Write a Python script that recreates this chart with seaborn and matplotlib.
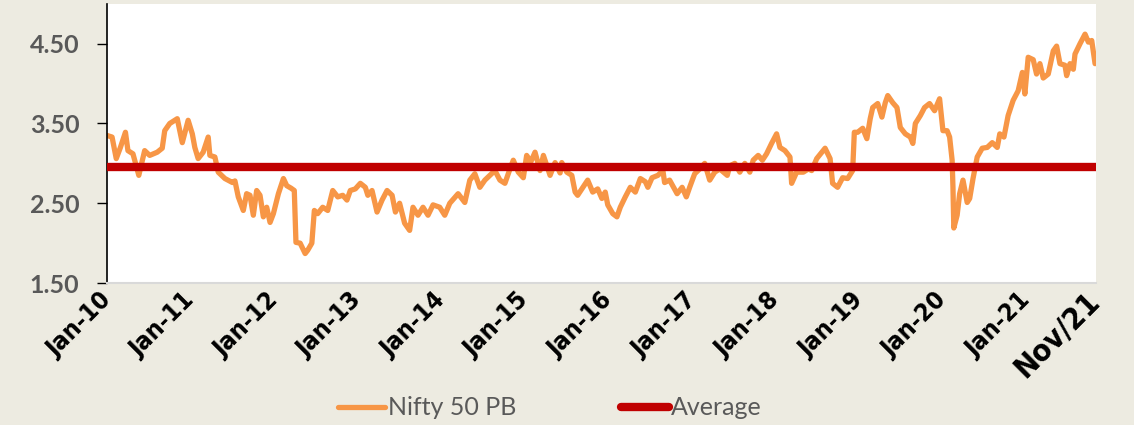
import matplotlib
matplotlib.use("Agg")
import matplotlib.pyplot as plt
import seaborn as sns
import pandas as pd

# ---- data (decimal year, P/B) ----
years = [
    2010.00, 2010.06, 2010.11, 2010.16, 2010.22, 2010.25, 2010.31, 2010.38, 2010.45, 2010.51,
    2010.60, 2010.66, 2010.69, 2010.75, 2010.84, 2010.90, 2010.97, 2011.02, 2011.05, 2011.09,
    2011.15, 2011.21, 2011.23, 2011.29, 2011.33, 2011.41, 2011.50, 2011.53, 2011.57, 2011.63,
    2011.67, 2011.71, 2011.75, 2011.79, 2011.83, 2011.87, 2011.91, 2011.95, 2011.99, 2012.05,
    2012.11, 2012.15, 2012.20, 2012.24, 2012.26, 2012.31, 2012.37, 2012.40, 2012.45, 2012.48,
    2012.52, 2012.58, 2012.64, 2012.70, 2012.76, 2012.82, 2012.87, 2012.91, 2012.97, 2013.03,
    2013.09, 2013.12, 2013.17, 2013.23, 2013.29, 2013.35, 2013.41, 2013.45, 2013.50, 2013.56,
    2013.62, 2013.66, 2013.72, 2013.78, 2013.84, 2013.90, 2013.98, 2014.04, 2014.10, 2014.20,
    2014.28, 2014.34, 2014.40, 2014.46, 2014.52, 2014.58, 2014.64, 2014.70, 2014.76, 2014.81,
    2014.86, 2014.92, 2014.98, 2015.02, 2015.07, 2015.12, 2015.18, 2015.22, 2015.30, 2015.36,
    2015.42, 2015.44, 2015.50, 2015.56, 2015.60, 2015.63, 2015.68, 2015.75, 2015.81, 2015.87,
    2015.92, 2015.96, 2015.99, 2016.05, 2016.10, 2016.14, 2016.20, 2016.26, 2016.32, 2016.38,
    2016.44, 2016.47, 2016.52, 2016.59, 2016.65, 2016.67, 2016.73, 2016.82, 2016.88, 2016.93,
    2016.97, 2017.03, 2017.09, 2017.15, 2017.21, 2017.27, 2017.33, 2017.42, 2017.45, 2017.51,
    2017.57, 2017.63, 2017.69, 2017.73, 2017.79, 2017.84, 2017.89, 2017.95, 2018.01, 2018.05,
    2018.11, 2018.17, 2018.19, 2018.25, 2018.33, 2018.39, 2018.43, 2018.49, 2018.59, 2018.65,
    2018.68, 2018.74, 2018.80, 2018.86, 2018.92, 2018.94, 2018.98, 2019.04, 2019.09, 2019.13,
    2019.16, 2019.22, 2019.27, 2019.31, 2019.34, 2019.40, 2019.45, 2019.49, 2019.55, 2019.61,
    2019.64, 2019.67, 2019.73, 2019.78, 2019.84, 2019.90, 2019.96, 2020.00, 2020.05, 2020.08,
    2020.11, 2020.12, 2020.13, 2020.17, 2020.20, 2020.24, 2020.29, 2020.32, 2020.36, 2020.41,
    2020.47, 2020.53, 2020.59, 2020.65, 2020.68, 2020.73, 2020.78, 2020.84, 2020.90, 2020.95,
    2020.98, 2021.02, 2021.08, 2021.12, 2021.16, 2021.20, 2021.26, 2021.32, 2021.36, 2021.40,
    2021.46, 2021.48, 2021.52, 2021.56, 2021.58, 2021.64, 2021.70, 2021.74, 2021.78, 2021.82,
]
nifty_pb = [
    3.35, 3.33, 3.06, 3.20, 3.39, 3.16, 3.12, 2.85, 3.16, 3.10,
    3.14, 3.19, 3.41, 3.50, 3.56, 3.26, 3.54, 3.37, 3.20, 3.06,
    3.14, 3.33, 3.10, 3.08, 2.89, 2.81, 2.76, 2.78, 2.58, 2.41,
    2.62, 2.60, 2.35, 2.66, 2.60, 2.33, 2.45, 2.26, 2.37, 2.62,
    2.81, 2.72, 2.69, 2.66, 2.01, 2.00, 1.87, 1.91, 2.00, 2.41,
    2.37, 2.45, 2.41, 2.66, 2.58, 2.60, 2.54, 2.66, 2.68, 2.75,
    2.70, 2.60, 2.66, 2.39, 2.54, 2.66, 2.60, 2.39, 2.50, 2.25,
    2.16, 2.45, 2.35, 2.45, 2.35, 2.48, 2.45, 2.35, 2.50, 2.62,
    2.51, 2.79, 2.87, 2.70, 2.79, 2.85, 2.91, 2.79, 2.75, 2.90,
    3.04, 2.89, 2.82, 3.10, 3.02, 3.14, 2.91, 3.10, 2.85, 3.01,
    2.88, 3.01, 2.89, 2.85, 2.64, 2.60, 2.68, 2.79, 2.64, 2.68,
    2.56, 2.64, 2.48, 2.37, 2.33, 2.45, 2.58, 2.70, 2.64, 2.81,
    2.77, 2.70, 2.82, 2.85, 2.91, 2.76, 2.79, 2.62, 2.70, 2.58,
    2.70, 2.87, 2.93, 3.00, 2.79, 2.89, 2.93, 2.85, 2.97, 3.00,
    2.89, 3.00, 2.89, 3.04, 3.10, 3.04, 3.12, 3.25, 3.37, 3.20,
    3.16, 3.08, 2.75, 2.89, 2.89, 2.93, 2.91, 3.06, 3.19, 3.06,
    2.75, 2.70, 2.82, 2.81, 2.91, 3.39, 3.39, 3.44, 3.31, 3.56,
    3.70, 3.75, 3.58, 3.76, 3.85, 3.76, 3.70, 3.45, 3.37, 3.33,
    3.25, 3.50, 3.60, 3.70, 3.75, 3.66, 3.81, 3.41, 3.41, 3.33,
    3.04, 2.70, 2.19, 2.35, 2.62, 2.79, 2.51, 2.56, 2.81, 3.08,
    3.19, 3.20, 3.26, 3.20, 3.37, 3.33, 3.60, 3.79, 3.91, 4.14,
    3.87, 4.33, 4.30, 4.12, 4.25, 4.07, 4.12, 4.41, 4.47, 4.25,
    4.23, 4.10, 4.25, 4.18, 4.37, 4.50, 4.62, 4.52, 4.54, 4.25,
]
average_pb = 2.96

tick_years = [2010, 2011, 2012, 2013, 2014, 2015, 2016, 2017, 2018, 2019, 2020, 2021, 2021.83]
tick_labels = ["Jan-10", "Jan-11", "Jan-12", "Jan-13", "Jan-14", "Jan-15", "Jan-16",
               "Jan-17", "Jan-18", "Jan-19", "Jan-20", "Jan-21", "Nov/21"]
y_ticks = [1.5, 2.5, 3.5, 4.5]

df = pd.DataFrame({"year": years, "pb": nifty_pb})

sns.set_theme(style="ticks")
BG = "#EDEBE1"
fig = plt.figure(figsize=(11.34, 4.25), dpi=100, facecolor=BG)
ax = fig.add_axes([0.0944, 0.334, 0.872, 0.657])
ax.set_facecolor("white")

sns.lineplot(data=df, x="year", y="pb", ax=ax, color="#F79646", linewidth=3.8,
             label="Nifty 50 PB", solid_capstyle="round", solid_joinstyle="round")
ax.axhline(average_pb, color="#C00000", linewidth=6, label="Average", zorder=3,
           solid_capstyle="butt")

ax.set_xlim(tick_years[0], tick_years[-1])
ax.set_ylim(1.5, 5.0)
ax.set_xlabel("")
ax.set_ylabel("")

ax.set_yticks(y_ticks)
ax.set_yticklabels([f"{v:.2f}" for v in y_ticks], fontfamily="Lato", fontweight="bold",
                   fontsize=18, color="#595959")
ax.tick_params(axis="y", direction="out", length=7, width=1, color="black", pad=13, left=True)

ax.set_xticks(tick_years)
ax.set_xticklabels(tick_labels, rotation=45, ha="right", va="center",
                   rotation_mode="anchor", fontfamily="DejaVu Sans",
                   fontstretch="condensed", fontweight="bold", fontsize=18, color="black")
ax.get_xticklabels()[-1].set_fontsize(22)
ax.tick_params(axis="x", length=0, pad=10)

for s in ["top", "right"]:
    ax.spines[s].set_visible(False)
ax.spines["left"].set_color("black")
ax.spines["left"].set_linewidth(1.2)
ax.spines["bottom"].set_color("#D9D9D9")
ax.spines["bottom"].set_linewidth(1.5)

leg = ax.legend(loc="lower center", bbox_to_anchor=(0.485, -0.01), bbox_transform=fig.transFigure,
                ncol=2, frameon=False, handlelength=1.9, handletextpad=0.1, columnspacing=4.2,
                prop={"family": "Lato", "size": 18}, borderaxespad=0.0)
for t in leg.get_texts():
    t.set_color("#595959")
for h in leg.legend_handles:
    h.set_solid_capstyle("round")

fig.savefig("out.png", dpi=100, facecolor=BG)
